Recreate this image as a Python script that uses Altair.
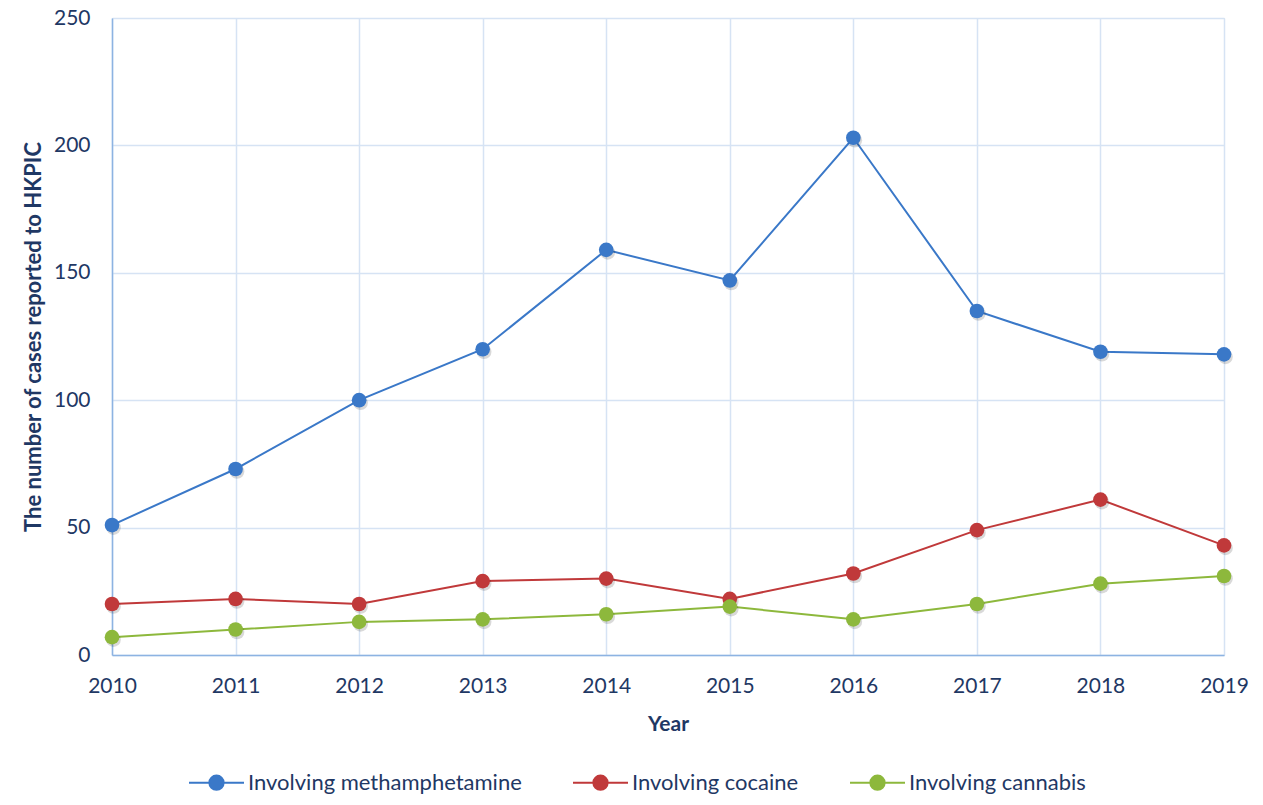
import altair as alt
import pandas as pd

years = [2010, 2011, 2012, 2013, 2014, 2015, 2016, 2017, 2018, 2019]
meth = [51, 73, 100, 120, 159, 147, 203, 135, 119, 118]
cocaine = [20, 22, 20, 29, 30, 22, 32, 49, 61, 43]
cannabis = [7, 10, 13, 14, 16, 19, 14, 20, 28, 31]

series_names = ["Involving methamphetamine", "Involving cocaine", "Involving cannabis"]
series_colors = ["#3A78C8", "#C0393A", "#8DB83C"]

rows = []
for name, vals in zip(series_names, [meth, cocaine, cannabis]):
    for y, v in zip(years, vals):
        rows.append({"Year": y, "Cases": v, "Series": name})
df = pd.DataFrame(rows)

FONT = "Lato"
TXT = "#1F3864"

sym = "M-1,0L-0.26,0M0.26,0L1,0M-0.26,0A0.26,0.26 0 1,1 0.26,0A0.26,0.26 0 1,1 -0.26,0Z"

color = alt.Color(
    "Series:N",
    scale=alt.Scale(domain=series_names, range=series_colors),
    legend=alt.Legend(
        title=None,
        orient="none",
        legendX=76,
        legendY=736,
        direction="horizontal",
        symbolType=sym,
        symbolSize=3025,
        symbolStrokeWidth=2,
        symbolOpacity=1,
        labelFont=FONT,
        labelFontSize=22,
        labelColor=TXT,
        labelOffset=3,
        labelLimit=0,
        columnPadding=47,
    ),
)

x = alt.X(
    "Year:Q",
    scale=alt.Scale(domain=[2010, 2019], nice=False, zero=False),
    axis=alt.Axis(
        values=years,
        format="d",
        title="Year",
        titleFont=FONT,
        titleFontSize=21,
        titleFontWeight="bold",
        titleColor=TXT,
        titlePadding=17,
        labelFont=FONT,
        labelFontSize=21,
        labelColor=TXT,
        labelPadding=20,
        ticks=False,
        domainColor="#8DB3E2",
        domainWidth=1.5,
        gridColor="#D6E3F4",
        gridWidth=1.5,
        labelFlush=False,
    ),
)

y = alt.Y(
    "Cases:Q",
    scale=alt.Scale(domain=[0, 250], nice=False),
    axis=alt.Axis(
        values=[0, 50, 100, 150, 200, 250],
        title="The number of cases reported to HKPIC",
        titleFont=FONT,
        titleFontSize=22,
        titleFontWeight="bold",
        titleColor=TXT,
        titlePadding=8,
        labelFont=FONT,
        labelFontSize=21,
        labelColor=TXT,
        labelPadding=22,
        ticks=False,
        domainColor="#8DB3E2",
        domainWidth=1.5,
        gridColor="#D6E3F4",
        gridWidth=1.5,
    ),
)

base = alt.Chart(df)

shadow = base.mark_circle(size=215, color="#000000", opacity=0.15).encode(
    x=x, y=y, xOffset=alt.value(1.5), yOffset=alt.value(2.5)
)

lines = base.mark_line(strokeWidth=2).encode(x=x, y=y, color=color)
points = base.mark_circle(size=215, opacity=1).encode(x=x, y=y, color=color)

chart = alt.layer(lines, shadow, points).properties(
    width=1112,
    height=637,
    autosize=alt.AutoSizeParams(type="none"),
    padding={"left": 104, "top": 10, "right": 31, "bottom": 142},
).configure_view(stroke=None).configure(background="white")

chart.save("out.html", embed_options={"renderer": "svg", "actions": False})
